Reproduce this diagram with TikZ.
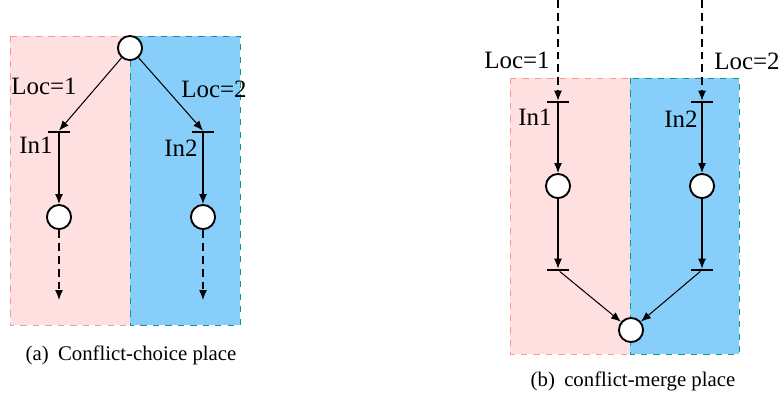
\documentclass[tikz,border=0pt]{standalone}
\usepackage{fontspec}
\setmainfont{Liberation Serif}
\usetikzlibrary{arrows.meta, positioning}
\definecolor{zonepink}{RGB}{255,224,224}
\definecolor{zonepinkedge}{RGB}{255,150,150}
\definecolor{zoneblue}{RGB}{135,206,250}
\definecolor{zoneblueedge}{RGB}{20,150,140}

\begin{document}
\begin{tikzpicture}[
  x=0.481pt, y=-0.481pt,
  place/.style={draw, circle, line width=0.9pt, fill=white, minimum size=11.6pt, inner sep=0pt},
  trans/.style={rectangle, fill=black, minimum width=10.6pt, minimum height=0.9pt, inner sep=0pt},
  arc/.style={-{Latex[length=4.8pt,width=3.8pt]}, line width=0.5pt},
  openarc/.style={arc, dash pattern=on 3.8pt off 2.4pt},
  lbl/.style={font=\rmfamily\fontsize{12}{14}\selectfont, inner sep=0pt},
  subcap/.style={font=\rmfamily\fontsize{10}{12}\selectfont, inner sep=0pt},
  pinkzone/.style={fill=zonepink, draw=zonepinkedge, dashed, line width=0.4pt},
  bluezone/.style={fill=zoneblue, draw=zoneblueedge, dashed, line width=0.4pt}
]
  \useasboundingbox (0,0) rectangle (779,396);

  % (a) conflict-choice
  \draw[pinkzone] (10,36) rectangle (130,325);
  \draw[bluezone] (130,36) rectangle (240,325);

  \node[place] (choice) at (130,48) {};
  \node[trans] (inA) at (59,132) {};
  \node[trans] (inB) at (203,132) {};
  \node[place] (pA) at (59,217) {};
  \node[place] (pB) at (203,217) {};
  \coordinate (outA) at (59,300);
  \coordinate (outB) at (203,300);

  \draw[arc] (choice) -- (inA.north);
  \draw[arc] (choice) -- (inB.north);
  \draw[arc] (inA) -- (pA);
  \draw[arc] (inB) -- (pB);
  \draw[openarc] (pA) -- (outA);
  \draw[openarc] (pB) -- (outB);

  \node[lbl] (locA) at (44,86) {Loc=1};
  \node[lbl] (locB) at (214,89) {Loc=2};
  \node[lbl] (nameA) at (36,145) {In1};
  \node[lbl] (nameB) at (181,148) {In2};

  \node[subcap] (capA) at (131,355) {(a)\hspace{0.45em}Conflict-choice place};

  % (b) conflict-merge
  \draw[pinkzone] (510,78) rectangle (630,354);
  \draw[bluezone] (630,78) rectangle (739,354);

  \coordinate (srcA) at (558,0);
  \coordinate (srcB) at (702,0);
  \node[trans] (tinA) at (558,102) {};
  \node[trans] (tinB) at (702,102) {};
  \node[place] (qA) at (558,186) {};
  \node[place] (qB) at (702,186) {};
  \node[trans] (toutA) at (558,270) {};
  \node[trans] (toutB) at (702,270) {};
  \node[place] (merge) at (631,330) {};

  \draw[openarc] (srcA) -- (tinA.north);
  \draw[openarc] (srcB) -- (tinB.north);
  \draw[arc] (tinA) -- (qA);
  \draw[arc] (tinB) -- (qB);
  \draw[arc] (qA) -- (toutA.north);
  \draw[arc] (qB) -- (toutB.north);
  \draw[arc] (toutA) -- (merge);
  \draw[arc] (toutB) -- (merge);

  \node[lbl] (locC) at (517,60) {Loc=1};
  \node[lbl] (locD) at (747,61) {Loc=2};
  \node[lbl] (nameC) at (535,117) {In1};
  \node[lbl] (nameD) at (681,119) {In2};

  \node[subcap] (capB) at (633,381) {(b)\hspace{0.45em}conflict-merge place};
\end{tikzpicture}
\end{document}
